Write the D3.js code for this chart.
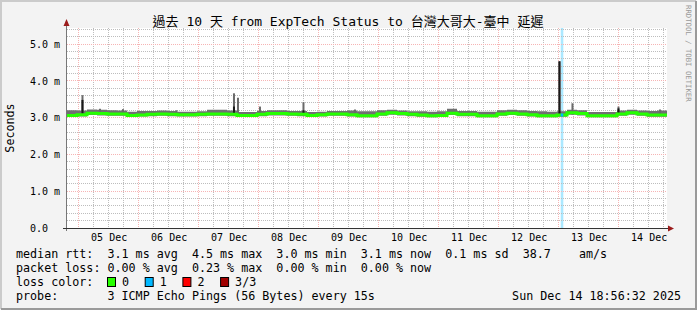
<!DOCTYPE html>
<html>
<head>
<meta charset="utf-8">
<script src="https://cdn.jsdelivr.net/npm/d3@7"></script>
<style>
  html, body { margin: 0; padding: 0; background: #f3f3f3; }
  svg { display: block; }
  text { font-family: "DejaVu Sans Mono", "Noto Sans CJK TC", monospace; fill: #000; }
</style>
</head>
<body>
<svg id="chart" width="697" height="310"></svg>
<script>
// ---- data ----
var title = "過去 10 天 from ExpTech Status to 台灣大哥大-臺中 延遲"
var endTime = "2025-12-14T18:56:32"
var spanDays = 10
var binHours = 4

// median rtt per 4h bin (ms)
var median = [3.06, 3.08, 3.12, 3.11, 3.10, 3.10, 3.06, 3.07, 3.09, 3.10,
              3.09, 3.08, 3.08, 3.09, 3.10, 3.10, 3.09, 3.06, 3.06, 3.09,
              3.11, 3.11, 3.10, 3.09, 3.06, 3.08, 3.10, 3.10, 3.08, 3.05,
              3.05, 3.10, 3.13, 3.11, 3.09, 3.07, 3.05, 3.06, 3.12, 3.09,
              3.09, 3.05, 3.05, 3.10, 3.12, 3.10, 3.08, 3.05, 3.05, 3.07,
              3.13, 3.11, 3.05, 3.05, 3.05, 3.10, 3.13, 3.10, 3.07, 3.07]
// top of the smoke per bin
var smokeHi = [3.20, 3.19, 3.22, 3.21, 3.20, 3.19, 3.16, 3.18, 3.18, 3.19,
               3.18, 3.16, 3.16, 3.17, 3.21, 3.21, 3.19, 3.15, 3.15, 3.18,
               3.20, 3.20, 3.18, 3.18, 3.15, 3.16, 3.18, 3.18, 3.19, 3.17,
               3.17, 3.20, 3.21, 3.19, 3.17, 3.17, 3.16, 3.17, 3.24, 3.18,
               3.18, 3.16, 3.16, 3.20, 3.21, 3.20, 3.18, 3.17, 3.16, 3.17,
               3.21, 3.20, 3.15, 3.15, 3.15, 3.19, 3.21, 3.19, 3.18, 3.19]
// bottom of the smoke per bin
var smokeLo = [3.02, 3.03, 3.07, 3.06, 3.05, 3.05, 3.02, 3.03, 3.04, 3.05,
               3.04, 3.03, 3.03, 3.04, 3.05, 3.05, 3.04, 3.02, 3.02, 3.04,
               3.06, 3.06, 3.05, 3.04, 3.02, 3.03, 3.05, 3.05, 3.03, 3.01,
               3.01, 3.05, 3.08, 3.06, 3.04, 3.02, 3.01, 3.02, 3.07, 3.04,
               3.04, 3.01, 3.01, 3.05, 3.07, 3.05, 3.03, 3.01, 3.01, 3.02,
               3.08, 3.06, 3.01, 3.01, 3.01, 3.05, 3.08, 3.05, 3.02, 3.02]

// short spikes: time, smoke top, dark part top (0 = none)
var spikeTimes = ["2025-12-05T01:08", "2025-12-05T08:08", "2025-12-05T17:20", "2025-12-06T14:44",
                  "2025-12-07T13:44", "2025-12-07T15:20", "2025-12-08T00:08", "2025-12-08T17:32",
                  "2025-12-09T14:08", "2025-12-12T23:56", "2025-12-13T05:08", "2025-12-13T23:32",
                  "2025-12-14T16:08"]
var spikeHi    = [3.61, 3.24, 3.23, 3.20, 3.66, 3.54, 3.30, 3.42, 3.22, 4.53, 3.39, 3.30, 3.22]
var spikeDark  = [3.48, 0, 0, 0, 3.30, 0, 0, 3.20, 0, 4.53, 0, 3.25, 0]

// intervals with packet loss
var lossStart = ["2025-12-13T00:26"]
var lossEnd   = ["2025-12-13T01:28"]
var lossCount = [1]

var lossColors = ["#26ff00", "#00b8ff", "#ff0000", "#a10000"]
var lossLabels = ["0", "1", "2", "3/3"]

var yMajor = [0, 1, 2, 3, 4, 5]
var yLabels = ["0.0", "1.0 m", "2.0 m", "3.0 m", "4.0 m", "5.0 m"]

var legendLines = [
  "median rtt:  3.1 ms avg  4.5 ms max  3.0 ms min  3.1 ms now  0.1 ms sd  38.7    am/s",
  "packet loss: 0.00 % avg  0.23 % max  0.00 % min  0.00 % now",
  "loss color:",
  "probe:       3 ICMP Echo Pings (56 Bytes) every 15s"
]
var stamp = "Sun Dec 14 18:56:32 2025"

// ---- layout ----
var W = 697, H = 310
var pLeft = 67, pRight = 667, pTop = 28, pBottom = 228

var parse = d3.utcParse("%Y-%m-%dT%H:%M")
var end = d3.utcParse("%Y-%m-%dT%H:%M:%S")(endTime)
var start = d3.utcDay.offset(end, -spanDays)

var x = d3.scaleUtc().domain([start, end]).range([pLeft, pRight])
var y = d3.scaleLinear().domain([0, 200 / 36.8]).range([pBottom, pTop])

var svg = d3.select("#chart")

// frame
svg.append("rect").attr("width", W).attr("height", H).attr("fill", "#f3f3f3")
svg.append("path").attr("d", "M1,309V1H696").attr("fill", "none").attr("stroke", "#cbcbcb").attr("stroke-width", 2)
svg.append("path").attr("d", "M1,309H696V1").attr("fill", "none").attr("stroke", "#9a9a9a").attr("stroke-width", 2)

// plot canvas
svg.append("rect").attr("x", pLeft).attr("y", pTop).attr("width", pRight - pLeft).attr("height", pBottom - pTop).attr("fill", "#fff")

// loss background bands
lossStart.forEach(function (s, i) {
  var x0 = x(parse(s)), x1 = x(parse(lossEnd[i]))
  svg.append("rect")
    .attr("x", x0).attr("y", pTop).attr("width", x1 - x0).attr("height", pBottom - pTop)
    .attr("fill", lossColors[lossCount[i]]).attr("fill-opacity", 0.33)
})

// grid
var grid = svg.append("g").attr("shape-rendering", "crispEdges")
var snap = function (v) { return Math.floor(v) + 0.5 }

d3.utcHour.every(6).range(start, end).forEach(function (t) {
  var major = t.getUTCHours() === 0
  grid.append("line")
    .attr("x1", snap(x(t)) - 1).attr("x2", snap(x(t)) - 1)
    .attr("y1", pTop).attr("y2", pBottom)
    .attr("stroke", major ? "#f6b4b4" : "#bdbdbd")
    .attr("stroke-dasharray", "1,1")
})
y.ticks(27).forEach(function (v) {
  if (v === 0) return
  var major = Math.abs(v - Math.round(v)) < 1e-6
  grid.append("line")
    .attr("x1", pLeft).attr("x2", pRight)
    .attr("y1", snap(y(v))).attr("y2", snap(y(v)))
    .attr("stroke", major ? "#f6b4b4" : "#bdbdbd")
    .attr("stroke-dasharray", "1,1")
})

// series bins
var bins = median.map(function (m, i) {
  return { t: d3.utcHour.offset(start, i * binHours), med: m, hi: smokeHi[i], lo: smokeLo[i] }
})
bins.push({ t: end, med: median[median.length - 1], hi: smokeHi[smokeHi.length - 1], lo: smokeLo[smokeLo.length - 1] })

// smoke
svg.append("path")
  .datum(bins)
  .attr("fill", "#707070")
  .attr("d", d3.area().curve(d3.curveStepAfter)
    .x(function (d) { return x(d.t) })
    .y0(function (d) { return y(d.lo) })
    .y1(function (d) { return y(d.hi) }))

// spikes
var spikes = spikeTimes.map(function (s, i) { return { t: parse(s), hi: spikeHi[i], dark: spikeDark[i] } })
svg.append("g").selectAll("rect")
  .data(spikes).join("rect")
  .attr("x", function (d) { return x(d.t) - 1 })
  .attr("width", 2)
  .attr("y", function (d) { return y(d.hi) })
  .attr("height", function (d) { return y(3.08) - y(d.hi) })
  .attr("fill", "#6a6a6a")
svg.append("g").selectAll("rect")
  .data(spikes.filter(function (d) { return d.dark > 0 })).join("rect")
  .attr("x", function (d) { return x(d.t) - 1 })
  .attr("width", 2)
  .attr("y", function (d) { return y(d.dark) })
  .attr("height", function (d) { return y(3.08) - y(d.dark) })
  .attr("fill", "#1a1a1a")

// median line
var medLine = d3.line().curve(d3.curveStepAfter)
  .x(function (d) { return x(d.t) })
  .y(function (d) { return y(d.med) })
svg.append("path").datum(bins)
  .attr("fill", "none").attr("stroke", lossColors[0]).attr("stroke-width", 3)
  .attr("d", medLine)

// median coloured by loss where loss happened
lossStart.forEach(function (s, i) {
  var x0 = x(parse(s)), x1 = x(parse(lossEnd[i]))
  svg.append("clipPath").attr("id", "loss" + i)
    .append("rect").attr("x", x0).attr("y", pTop).attr("width", x1 - x0).attr("height", pBottom - pTop)
  svg.append("path").datum(bins)
    .attr("clip-path", "url(#loss" + i + ")")
    .attr("fill", "none").attr("stroke", lossColors[lossCount[i]]).attr("stroke-width", 3)
    .attr("d", medLine)
})

// y axis labels
var yAxis = svg.append("g").attr("transform", "translate(" + pLeft + ",0)")
  .call(d3.axisLeft(y).tickValues(yMajor).tickSize(0)
    .tickFormat(function (d, i) { return yLabels[i] }))
yAxis.select(".domain").remove()
yAxis.selectAll("text")
  .attr("x", 30 - pLeft).attr("text-anchor", "start")
  .style("font-family", "'DejaVu Sans Mono', monospace").style("font-size", "10px")

// x axis labels at noon
var noons = d3.utcDay.range(d3.utcDay.ceil(start), end).map(function (d) { return d3.utcHour.offset(d, 12) })
var xAxis = svg.append("g").attr("transform", "translate(-1," + pBottom + ")")
  .call(d3.axisBottom(x).tickValues(noons).tickSize(0).tickPadding(6)
    .tickFormat(d3.utcFormat("%d %b")))
xAxis.select(".domain").remove()
xAxis.selectAll("text")
  .style("font-family", "'DejaVu Sans Mono', monospace").style("font-size", "10px")

// axis lines with arrows
svg.append("line").attr("x1", pLeft - 0.5).attr("x2", pLeft - 0.5).attr("y1", pBottom + 3).attr("y2", 23)
  .attr("stroke", "#777").attr("shape-rendering", "crispEdges")
svg.append("line").attr("x1", pLeft - 4).attr("x2", pRight + 3).attr("y1", pBottom + 0.5).attr("y2", pBottom + 0.5)
  .attr("stroke", "#333").attr("shape-rendering", "crispEdges")
svg.append("path").attr("d", "M" + (pLeft - 3.5) + ",26L" + (pLeft - 0.5) + ",19L" + (pLeft + 2.5) + ",26Z").attr("fill", "#9b1c1c")
svg.append("path").attr("d", "M" + (pRight + 1) + "," + (pBottom - 2.5) + "L" + (pRight + 7) + "," + (pBottom + 0.5) + "L" + (pRight + 1) + "," + (pBottom + 3.5) + "Z").attr("fill", "#9b1c1c")

// title
svg.append("text").attr("x", 348).attr("y", 26).attr("text-anchor", "middle")
  .style("font-size", "13px").text(title)

// y axis title
svg.append("text").attr("transform", "translate(14,128) rotate(-90)").attr("text-anchor", "middle")
  .style("font-size", "11.7px").text("Seconds")

// watermark
svg.append("text").attr("transform", "translate(686,5) rotate(90)")
  .style("font-size", "7.3px").style("fill", "#999").text("RRDTOOL / TOBI OETIKER")

// legend
legendLines.forEach(function (s, i) {
  svg.append("text").attr("x", 16).attr("y", 258 + i * 14)
    .style("font-size", "11.7px").style("white-space", "pre").text(s)
})
lossLabels.forEach(function (s, i) {
  var bx = 107.5 + i * 37.7
  svg.append("rect").attr("x", bx).attr("y", 277.5).attr("width", 8).attr("height", 9)
    .attr("fill", lossColors[i]).attr("stroke", "#000")
  svg.append("text").attr("x", bx + 14.5).attr("y", 286)
    .style("font-size", "11.7px").text(s)
})
svg.append("text").attr("x", 681).attr("y", 300).attr("text-anchor", "end")
  .style("font-size", "11.7px").text(stamp)
</script>
</body>
</html>
